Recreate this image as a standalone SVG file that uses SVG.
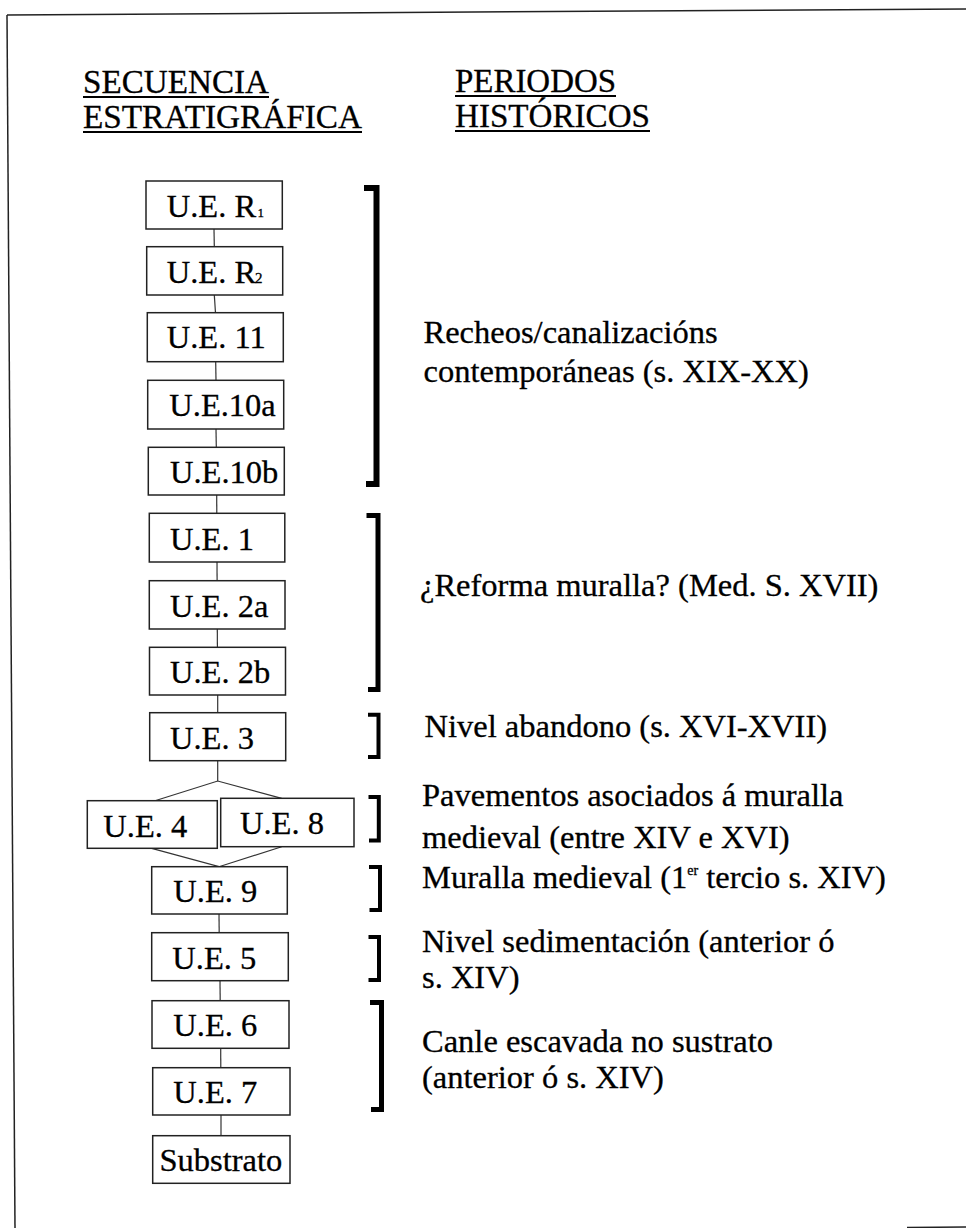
<svg xmlns="http://www.w3.org/2000/svg" width="966" height="1228" viewBox="0 0 966 1228">
<style>
.box{fill:#fff;stroke:#222;stroke-width:1.5}
.t{font-family:"Liberation Serif","Times New Roman",serif;font-size:32.5px;fill:#000;stroke:#000;stroke-width:0.3}
.h{font-family:"Liberation Serif","Times New Roman",serif;font-size:33px;fill:#000;stroke:#000;stroke-width:0.3}
.ul{stroke:#000;stroke-width:2}
.conn{stroke:#333;stroke-width:1.2;fill:none}
.br{stroke:#000;fill:none;stroke-linejoin:miter;stroke-linecap:butt}
.frame{stroke:#222;stroke-width:1.5;fill:none}
</style>
<rect width="966" height="1228" fill="#fff"/>
<g id="frame">
<line class="frame" x1="7" y1="15" x2="966" y2="9"/>
<line class="frame" x1="7" y1="15" x2="15" y2="1228"/>
<line class="frame" x1="907" y1="1227.5" x2="966" y2="1227"/>
</g>
<g id="headers">
<text class="h" x="83" y="93" textLength="186" lengthAdjust="spacingAndGlyphs">SECUENCIA</text>
<line class="ul" x1="83" y1="97" x2="269" y2="97"/>
<text class="h" x="83" y="128" textLength="279" lengthAdjust="spacingAndGlyphs">ESTRATIGRÁFICA</text>
<line class="ul" x1="83" y1="132" x2="362" y2="132"/>
<text class="h" x="455" y="92" textLength="161" lengthAdjust="spacingAndGlyphs">PERIODOS</text>
<line class="ul" x1="455" y1="96" x2="616" y2="96"/>
<text class="h" x="455" y="127" textLength="195" lengthAdjust="spacingAndGlyphs">HISTÓRICOS</text>
<line class="ul" x1="455" y1="131" x2="650" y2="131"/>
</g>
<g id="connectors">
<line class="conn" x1="214" y1="229" x2="214.3" y2="246.7"/>
<line class="conn" x1="214.3" y1="295" x2="215.5" y2="312.7"/>
<line class="conn" x1="215.7" y1="361.7" x2="216" y2="380.3"/>
<line class="conn" x1="216" y1="429" x2="216.3" y2="447.3"/>
<line class="conn" x1="216.7" y1="495" x2="216.8" y2="513.3"/>
<line class="conn" x1="217" y1="562" x2="217.1" y2="580.7"/>
<line class="conn" x1="217.3" y1="629" x2="217.4" y2="647.3"/>
<line class="conn" x1="217.7" y1="695" x2="217.7" y2="712.7"/>
<polyline class="conn" points="155,800.7 217.7,781 281.7,798.3"/>
<line class="conn" x1="217.7" y1="760.7" x2="217.7" y2="781"/>
<polyline class="conn" points="151.7,848.3 219,866.7 281.7,846.7"/>
<line class="conn" x1="219" y1="914" x2="219.2" y2="932.7"/>
<line class="conn" x1="220" y1="980.7" x2="220.2" y2="1000.7"/>
<line class="conn" x1="220.7" y1="1048.3" x2="220.8" y2="1067.7"/>
<line class="conn" x1="221" y1="1115" x2="221" y2="1135.7"/>
</g>
<g id="ue-r1"><rect class="box" x="146" y="181" width="136.3" height="48"/><text class="t" x="166.7" y="216.7">U.E. R<tspan font-size="13" dx="1.5">1</tspan></text></g>
<g id="ue-r2"><rect class="box" x="146.7" y="246.7" width="136" height="48.3"/><text class="t" x="166.7" y="283.3">U.E. R<tspan font-size="15" dx="-1">2</tspan></text></g>
<g id="ue-11"><rect class="box" x="147.3" y="312.7" width="136" height="49"/><text class="t" x="166.7" y="348.3">U.E. 11</text></g>
<g id="ue-10a"><rect class="box" x="147.7" y="380.3" width="136" height="48.7"/><text class="t" x="169.3" y="416">U.E.10a</text></g>
<g id="ue-10b"><rect class="box" x="148.3" y="447.3" width="136" height="47.7"/><text class="t" x="170" y="483">U.E.10b</text></g>
<g id="ue-1"><rect class="box" x="149.3" y="513.3" width="135.5" height="48.7"/><text class="t" x="170" y="549.5">U.E. 1</text></g>
<g id="ue-2a"><rect class="box" x="149.3" y="580.7" width="135.7" height="48.3"/><text class="t" x="170" y="616.5">U.E. 2a</text></g>
<g id="ue-2b"><rect class="box" x="149.5" y="647.3" width="136" height="47.7"/><text class="t" x="170" y="683">U.E. 2b</text></g>
<g id="ue-3"><rect class="box" x="149.7" y="712.7" width="136" height="48"/><text class="t" x="170" y="748.5">U.E. 3</text></g>
<g id="ue-4"><rect class="box" x="87.3" y="800.7" width="130" height="47.6"/><text class="t" x="103.3" y="836.7">U.E. 4</text></g>
<g id="ue-8"><rect class="box" x="220.7" y="798.3" width="133.3" height="48.4"/><text class="t" x="240" y="834">U.E. 8</text></g>
<g id="ue-9"><rect class="box" x="151.7" y="866.7" width="135.6" height="47.3"/><text class="t" x="173.3" y="902">U.E. 9</text></g>
<g id="ue-5"><rect class="box" x="151.7" y="932.7" width="136.6" height="48"/><text class="t" x="172.3" y="968.5">U.E. 5</text></g>
<g id="ue-6"><rect class="box" x="152" y="1000.7" width="137" height="47.6"/><text class="t" x="173.3" y="1036.3">U.E. 6</text></g>
<g id="ue-7"><rect class="box" x="152.7" y="1067.7" width="137.3" height="47.3"/><text class="t" x="173.3" y="1103">U.E. 7</text></g>
<g id="substrato"><rect class="box" x="152.7" y="1135.7" width="137.3" height="47.6"/><text class="t" x="159.5" y="1171">Substrato</text></g>
<g id="brackets">
<path class="br" stroke-width="6" d="M364 188 H376.5 V484 H366"/>
<path class="br" stroke-width="5" d="M366.5 515.5 H378 V689.5 H368"/>
<path class="br" stroke-width="4" d="M368 714.7 H378.5 V757 H368"/>
<path class="br" stroke-width="4" d="M368.5 797 H378.8 V840.5 H369"/>
<path class="br" stroke-width="4" d="M369 867 H380 V910 H369.5"/>
<path class="br" stroke-width="4" d="M368.5 937 H379 V980 H368.5"/>
<path class="br" stroke-width="5" d="M370 1002.5 H381.5 V1109.5 H371"/>
</g>
<g id="periods">
<text class="t" x="423.5" y="342.6">Recheos/canalizacións</text>
<text class="t" x="423.5" y="382.3">contemporáneas (s. XIX-XX)</text>
<text class="t" x="420" y="596">¿Reforma muralla? (Med. S. XVII)</text>
<text class="t" x="424.5" y="737">Nivel abandono (s. XVI-XVII)</text>
<text class="t" x="422" y="806">Pavementos asociados á muralla</text>
<text class="t" x="422" y="847.5">medieval (entre XIV e XVI)</text>
<text class="t" x="422" y="888">Muralla medieval (1<tspan font-size="14" dy="-13">er</tspan><tspan dy="13"> tercio s. XIV)</tspan></text>
<text class="t" x="422" y="952.3">Nivel sedimentación (anterior ó</text>
<text class="t" x="422" y="988.4">s. XIV)</text>
<text class="t" x="422" y="1051.6">Canle escavada no sustrato</text>
<text class="t" x="422" y="1087.7">(anterior ó s. XIV)</text>
</g>
</svg>
